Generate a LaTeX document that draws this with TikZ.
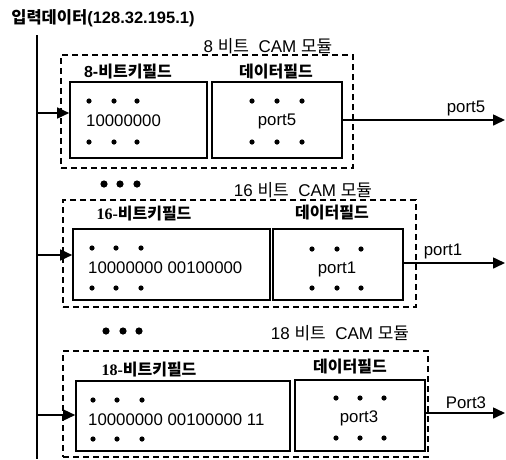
\documentclass[tikz,border=0pt]{standalone}
\usepackage{fontspec}
\setmainfont{Liberation Sans}
\newfontfamily\kr{Noto Sans CJK KR}
\newfontfamily\serifb{Liberation Serif}
\usetikzlibrary{arrows.meta}
\begin{document}
\begin{tikzpicture}[x=1pt,y=-1pt,
  box/.style={draw,line width=1.6pt,inner sep=0pt},
  modbox/.style={draw,line width=1.3pt,dash pattern=on 6pt off 4pt,inner sep=0pt},
  arr/.style={line width=1.6pt,-{Triangle[length=12pt,width=11pt]}},
  txt/.style={font=\fontsize{16.8}{19}\selectfont,inner sep=0pt},
  modtitle/.style={font=\fontsize{17}{19}\selectfont,inner sep=0pt},
  field/.style={font=\fontsize{16}{18}\selectfont\bfseries,inner sep=0pt},
  bus/.style={line width=1.4pt},
  dot/.style={fill=black}
]
\useasboundingbox (0,0) rectangle (506,459);

% title and bus
\node[font=\fontsize{16.5}{19}\selectfont\bfseries,inner sep=0pt] (title) at (103,18) {{\kr 입력데이터}(128.32.195.1)};
\coordinate (bt) at (37,35);
\coordinate (bb) at (37,459);
\draw[bus] (bt) -- (bb);

% ---------- module 1 ----------
\node[modbox,minimum width=292pt,minimum height=113pt] (m1) at (207,111.5) {};
\node[modtitle,fill=white,inner xsep=1pt] (t1) at (268,46) {8 {\kr 비트}\ \ CAM {\kr 모듈}};
\node[box,minimum width=137pt,minimum height=76pt] (k1) at (138.5,120) {};
\node[box,minimum width=130pt,minimum height=76pt] (d1) at (277,120) {};
\node[field] (kl1) at (128,72) {8-{\kr 비트키필드}};
\node[field] (dl1) at (276,72) {\kr 데이터필드};
\node[txt,anchor=west] (kt1) at (86,121) {10000000};
\node[txt] (dt1) at (277,121) {port5};
\foreach \x in {89,114,137} {\fill[dot] (\x,101) circle (2.6pt); \fill[dot] (\x,142) circle (2.6pt);}
\foreach \x in {252,277,302} {\fill[dot] (\x,101) circle (2.6pt); \fill[dot] (\x,142) circle (2.6pt);}
\coordinate (a1) at (37,113);
\draw[arr] (a1) -- (a1 -| k1.west);
\coordinate (o1) at (505,120);
\draw[arr] (o1 -| d1.east) -- (o1);
\node[txt] (p1) at (466,108) {port5};

% ellipsis
\foreach \x in {104,120,137} {\fill[dot] (\x,184) circle (3.6pt);}

% ---------- module 2 ----------
\node[modbox,minimum width=353pt,minimum height=107pt] (m2) at (239.5,253.5) {};
\node[modtitle,fill=white,inner xsep=1pt] (t2) at (303,190) {16 {\kr 비트}\ \ CAM {\kr 모듈}};
\node[box,minimum width=197pt,minimum height=71pt] (k2) at (171.5,264.5) {};
\node[box,minimum width=130pt,minimum height=71pt] (d2) at (338,264.5) {};
\node[field] (kl2) at (144,214) {{\serifb 16-}{\kr 비트키필드}};
\node[field] (dl2) at (332,213) {\kr 데이터필드};
\node[txt,anchor=west] (kt2) at (88,268) {10000000 00100000};
\node[txt] (dt2) at (337,269) {port1};
\foreach \x in {92,116,141} {\fill[dot] (\x,248) circle (2.6pt); \fill[dot] (\x,288) circle (2.6pt);}
\foreach \x in {312,337,361} {\fill[dot] (\x,249) circle (2.6pt); \fill[dot] (\x,288) circle (2.6pt);}
\coordinate (a2) at (37,255);
\draw[arr] (a2) -- (a2 -| k2.west);
\coordinate (o2) at (505,263);
\draw[arr] (o2 -| d2.east) -- (o2);
\node[txt] (p2) at (443,251) {port1};

% ellipsis
\foreach \x in {106,123,139} {\fill[dot] (\x,331) circle (3.6pt);}

% ---------- module 3 ----------
\node[modbox,minimum width=365pt,minimum height=106pt] (m3) at (245.5,404) {};
\node[modtitle,fill=white,inner xsep=1pt] (t3) at (340,333) {18 {\kr 비트}\ \ CAM {\kr 모듈}};
\node[box,minimum width=214pt,minimum height=70pt] (k3) at (183,416) {};
\node[box,minimum width=130pt,minimum height=71pt] (d3) at (360,415.5) {};
\node[field] (kl3) at (149,370) {{\serifb 18-}{\kr 비트키필드}};
\node[field] (dl3) at (350,367) {\kr 데이터필드};
\node[txt,anchor=west] (kt3) at (88,420) {10000000 00100000 11};
\node[txt] (dt3) at (359,418) {port3};
\foreach \x in {93,117,142} {\fill[dot] (\x,400) circle (2.6pt); \fill[dot] (\x,439) circle (2.6pt);}
\foreach \x in {336,360,384} {\fill[dot] (\x,398) circle (2.6pt); \fill[dot] (\x,438) circle (2.6pt);}
\coordinate (a3) at (37,415);
\draw[arr] (a3) -- (a3 -| k3.west);
\coordinate (o3) at (505,413);
\draw[arr] (o3 -| d3.east) -- (o3);
\node[txt] (p3) at (466,403) {Port3};
\end{tikzpicture}
\end{document}
